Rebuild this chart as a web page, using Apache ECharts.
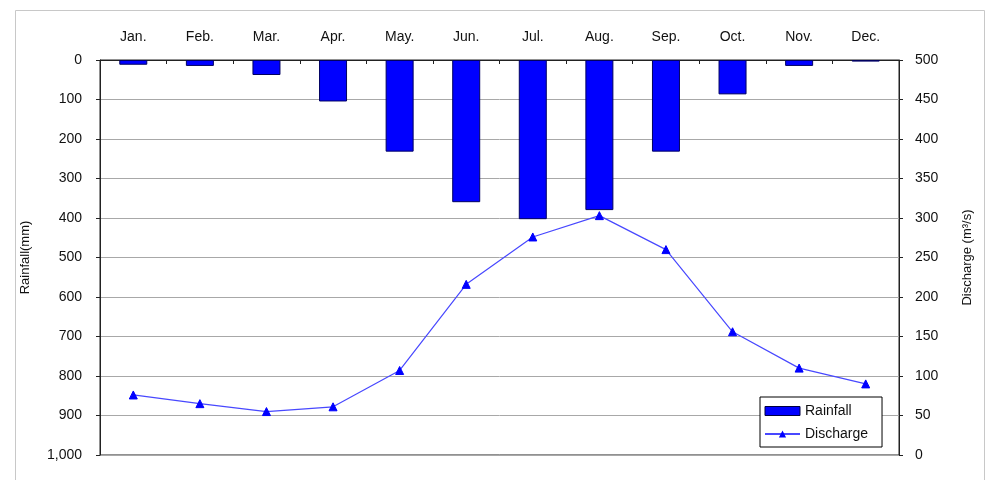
<!DOCTYPE html>
<html>
<head>
<meta charset="utf-8">
<script src="https://cdn.jsdelivr.net/npm/echarts@6/dist/echarts.min.js"></script>
<style>
html,body{margin:0;padding:0;background:#fff;}
#chart{width:992px;height:480px;}
</style>
</head>
<body>
<div id="chart"></div>
<script>
const months = ['Jan.', 'Feb.', 'Mar.', 'Apr.', 'May.', 'Jun.', 'Jul.', 'Aug.', 'Sep.', 'Oct.', 'Nov.', 'Dec.'];
const rainfall = [12, 15, 38, 105, 232, 360, 403, 380, 232, 87, 15, 4];
const discharge = [76, 65, 55, 61, 107, 216, 276, 303, 260, 156, 110, 90];
const rainfallTicks = [0, 1000, 100];
const dischargeTicks = [0, 500, 50];

const font = 'Liberation Sans, Arial, sans-serif';
const chart = echarts.init(document.getElementById('chart'), null, {renderer: 'canvas'});
chart.setOption({
  animation: false,
  backgroundColor: '#fff',
  textStyle: {fontFamily: font},
  graphic: [{
    type: 'rect', left: 13, top: 8, z: -10,
    shape: {width: 969, height: 480},
    style: {fill: 'none', stroke: '#c8c8c8', lineWidth: 1}
  }],
  grid: {
    left: 100, right: 93, top: 60, bottom: 25,
    show: true, borderColor: '#222', borderWidth: 1, backgroundColor: 'transparent'
  },
  legend: {
    orient: 'vertical',
    left: 760, top: 397,
    itemWidth: 35, itemHeight: 9, itemGap: 9,
    padding: [7, 14, 6, 4],
    borderColor: '#000', borderWidth: 1, borderRadius: 0,
    backgroundColor: '#fff',
    textStyle: {fontFamily: font, fontSize: 14, color: '#111'},
    data: [{name: 'Rainfall', icon: 'rect', itemStyle: {borderColor: '#000040', borderWidth: 1}}, {name: 'Discharge'}]
  },
  xAxis: {
    type: 'category',
    position: 'top',
    data: months,
    axisLine: {show: true, lineStyle: {color: '#222', width: 1}},
    axisTick: {show: true, inside: true, length: 4, lineStyle: {color: '#222'}},
    axisLabel: {fontFamily: font, fontSize: 14, color: '#111', margin: 16},
    splitLine: {show: false}
  },
  yAxis: [{
    type: 'value',
    inverse: true,
    min: rainfallTicks[0], max: rainfallTicks[1], interval: rainfallTicks[2],
    name: 'Rainfall(mm)', nameLocation: 'middle', nameRotate: 90, nameGap: 68,
    nameTextStyle: {fontFamily: font, fontSize: 13, color: '#111'},
    axisLine: {show: true, lineStyle: {color: '#222', width: 1}},
    axisTick: {show: true, length: 4, lineStyle: {color: '#222'}},
    axisLabel: {
      fontFamily: font, fontSize: 14, color: '#111', margin: 18,
      formatter: v => v.toString().replace(/\B(?=(\d{3})+(?!\d))/g, ',')
    },
    splitLine: {show: true, lineStyle: {color: '#a8a8a8', width: 1}}
  }, {
    type: 'value',
    min: dischargeTicks[0], max: dischargeTicks[1], interval: dischargeTicks[2],
    name: 'Discharge (m³/s)', nameLocation: 'middle', nameRotate: 90, nameGap: 62,
    nameTextStyle: {fontFamily: font, fontSize: 13, color: '#111'},
    axisLine: {show: true, lineStyle: {color: '#222', width: 1}},
    axisTick: {show: true, length: 4, lineStyle: {color: '#222'}},
    axisLabel: {fontFamily: font, fontSize: 14, color: '#111', margin: 16},
    splitLine: {show: false}
  }],
  series: [{
    name: 'Rainfall',
    type: 'bar',
    yAxisIndex: 0,
    data: rainfall,
    barWidth: 28,
    itemStyle: {color: '#0000ff', borderColor: '#000060', borderWidth: 1}
  }, {
    name: 'Discharge',
    type: 'line',
    yAxisIndex: 1,
    data: discharge,
    symbol: 'triangle',
    symbolSize: 8,
    showAllSymbol: true,
    lineStyle: {color: '#4848ff', width: 1.2},
    itemStyle: {color: '#0000ff', borderColor: '#0000ff'}
  }]
});
</script>
</body>
</html>
